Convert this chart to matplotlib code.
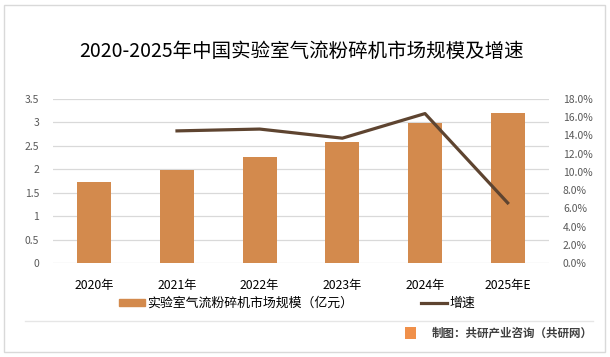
import matplotlib.pyplot as plt
from matplotlib.patches import Rectangle
from matplotlib.lines import Line2D

plt.rcParams['font.family'] = ['Noto Sans CJK SC', 'DejaVu Sans']

years = ['2020年', '2021年', '2022年', '2023年', '2024年', '2025年E']
market = [1.73, 1.99, 2.27, 2.58, 2.99, 3.20]      # 亿元
growth = [None, 14.5, 14.7, 13.7, 16.4, 6.6]       # %

bar_color = '#D38A4D'
line_color = '#5E4430'
grid_color = '#D9D9D9'
tick_color = '#595959'

fig = plt.figure(figsize=(6.10, 3.57), dpi=100)
ax = fig.add_axes([53 / 610, 94 / 357, 496 / 610, 164 / 357])

x = list(range(len(years)))
bars = ax.bar(x, market, width=0.41, color=bar_color, zorder=2)
ax.set_xlim(-0.5, len(years) - 0.5)
ax.set_ylim(0, 3.5)
ax.set_yticks([0, 0.5, 1, 1.5, 2, 2.5, 3, 3.5])
ax.set_yticklabels(['0', '0.5', '1', '1.5', '2', '2.5', '3', '3.5'])
ax.grid(axis='y', color=grid_color, linewidth=0.9, zorder=0)
ax.set_xticks(x)
ax.set_xticklabels(years, fontsize=8.8, color='#000000')
ax.tick_params(axis='x', length=0, pad=11.5)
ax.tick_params(axis='y', length=0, pad=10, labelsize=7.5, labelcolor=tick_color)
for s in ax.spines.values():
    s.set_visible(False)

ax2 = ax.twinx()
gx = [i for i, g in zip(x, growth) if g is not None]
gy = [g for g in growth if g is not None]
line, = ax2.plot(gx, gy, color=line_color, linewidth=2.3, zorder=3)
ax2.set_ylim(0, 18)
ax2.set_yticks(range(0, 19, 2))
ax2.set_yticklabels(['%.1f%%' % v for v in range(0, 19, 2)])
ax2.tick_params(axis='y', length=0, pad=10, labelsize=7.5, labelcolor=tick_color)
for s in ax2.spines.values():
    s.set_visible(False)

fig.text(0.5 - 3 / 610, 1 - 51.5 / 357, '2020-2025年中国实验室气流粉碎机市场规模及增速',
         ha='center', va='center', fontsize=14, color='#000000', fontweight='light')

bar_handle = Rectangle((0, 0), 1, 1, color=bar_color)
line_handle = Line2D([0], [0], color=line_color, linewidth=2.3)
fig.legend([bar_handle, line_handle], ['实验室气流粉碎机市场规模（亿元）', '增速'],
           loc='center', bbox_to_anchor=(297 / 610, 1 - 303.5 / 357), ncol=2,
           frameon=False, fontsize=9.3, handlelength=2.0, handleheight=0.5,
           handletextpad=0.2, columnspacing=5.2, borderpad=0)

# separator, source and outer frame
fig.add_artist(Line2D([25 / 610, 593 / 610], [1 - 320.5 / 357] * 2,
                      color='#E6E6E6', linewidth=1.0))
fig.add_artist(Rectangle((405 / 610, 1 - 339 / 357), 11 / 610, 12 / 357,
                         color='#F0904A', linewidth=0))
fig.text(593 / 610, 1 - 333 / 357, '制图：共研产业咨询（共研网）', ha='right', va='center',
         fontsize=8.3, color='#404040', fontweight='bold')
fig.add_artist(Rectangle((4 / 610, 5 / 357), 601 / 610, 347 / 357, fill=False,
                         edgecolor='#D9D9D9', linewidth=1.0))

fig.savefig('out.png', dpi=100)
